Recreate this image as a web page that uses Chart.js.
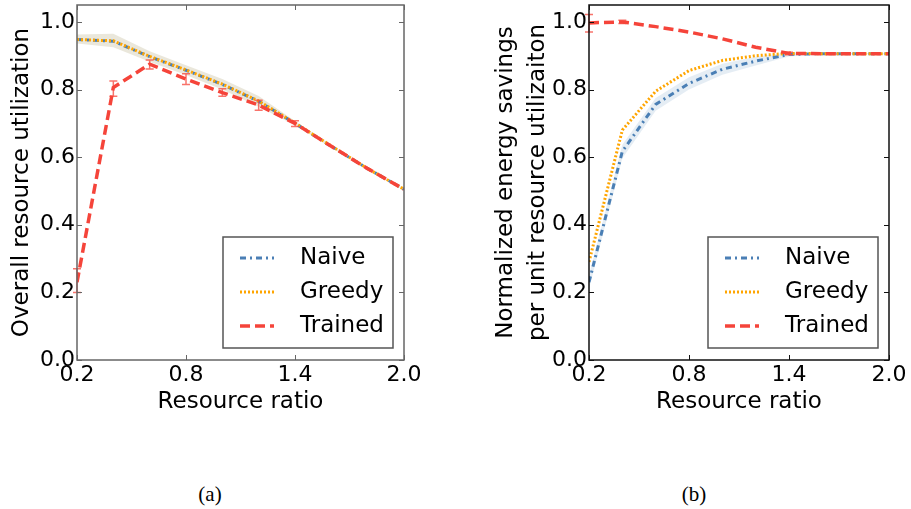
<!DOCTYPE html>
<html>
<head>
<meta charset="utf-8">
<script src="https://cdn.jsdelivr.net/npm/chart.js@4.4.0/dist/chart.umd.min.js"></script>
<style>
  body { margin: 0; background: #fff; width: 911px; height: 509px; position: relative; overflow: hidden; }
  canvas { position: absolute; top: 0; }
  #util { left: 0; }
  #saving { left: 455px; }
  .caption { position: absolute; top: 482px; font: 21px "Liberation Serif", serif; line-height: 24px; transform: translateX(-50%); }
</style>
</head>
<body>
<canvas id="util" width="455" height="430"></canvas>
<canvas id="saving" width="456" height="430"></canvas>
<div class="caption" style="left:210px">(a)</div>
<div class="caption" style="left:694px">(b)</div>
<script>
var ratios = [0.2, 0.4, 0.6, 0.8, 1.0, 1.2, 1.4, 1.6, 1.8, 2.0];
var xTicks = [0.2, 0.8, 1.4, 2.0];
var yTicks = [0.0, 0.2, 0.4, 0.6, 0.8, 1.0];
var seriesNames = ['Naive', 'Greedy', 'Trained'];

// (a) overall resource utilization
var utilNaive   = [0.948, 0.943, 0.897, 0.857, 0.815, 0.765, 0.700, 0.632, 0.566, 0.505];
var utilGreedy  = [0.948, 0.944, 0.898, 0.858, 0.816, 0.766, 0.701, 0.633, 0.566, 0.505];
var utilBandHi  = [0.963, 0.965, 0.913, 0.872, 0.831, 0.781, 0.707, 0.636, 0.568, 0.507];
var utilBandLo  = [0.936, 0.925, 0.882, 0.843, 0.800, 0.749, 0.694, 0.628, 0.563, 0.503];
var utilTrained = [0.230, 0.806, 0.875, 0.831, 0.791, 0.754, 0.700, 0.632, 0.566, 0.505];
var utilErrLo   = [0.200, 0.780, 0.861, 0.815, 0.780, 0.739, 0.691, null, null, null];
var utilErrHi   = [0.270, 0.825, 0.887, 0.847, 0.802, 0.768, 0.708, null, null, null];

// (b) normalized energy savings per unit utilization
var saveNaive   = [0.230, 0.617, 0.756, 0.818, 0.860, 0.884, 0.904, 0.906, 0.906, 0.906];
var saveGreedy  = [0.290, 0.680, 0.795, 0.856, 0.886, 0.900, 0.907, 0.906, 0.906, 0.906];
var saveBandHi  = [0.250, 0.637, 0.775, 0.836, 0.876, 0.897, 0.910, 0.908, 0.908, 0.908];
var saveBandLo  = [0.210, 0.597, 0.737, 0.800, 0.844, 0.871, 0.898, 0.904, 0.904, 0.904];
var saveTrained = [0.997, 1.000, 0.986, 0.970, 0.950, 0.925, 0.907, 0.906, 0.906, 0.906];
var saveErrLo   = [0.970, 0.995, null, null, null, null, 0.903, null, null, null];
var saveErrHi   = [1.022, 1.005, null, null, null, null, 0.910, null, null, null];

var BLUE = '#4a7fb5', ORANGE = '#ffa500', RED = '#f5443a';
var FONT = 'DejaVu Sans';

function pts(ys) {
  return ratios.map(function (x, i) { return { x: x, y: ys[i] }; });
}

function lines(naive, greedy, trained, errLo, errHi) {
  return [
    { label: seriesNames[0], data: pts(naive), borderColor: BLUE, borderWidth: 3, borderDash: [6, 4, 2, 4], order: 2, legend: true },
    { label: seriesNames[1], data: pts(greedy), borderColor: ORANGE, borderWidth: 3, borderDash: [2, 2], order: 1, legend: true },
    { label: seriesNames[2], data: pts(trained), borderColor: RED, borderWidth: 3.5, borderDash: [10, 5], order: 0, legend: true,
      errLo: errLo, errHi: errHi }
  ];
}

function band(hi, lo, color) {
  return [
    { label: 'hi', data: pts(hi), borderWidth: 0, borderColor: 'transparent', fill: false, order: 5 },
    { label: 'lo', data: pts(lo), borderWidth: 0, borderColor: 'transparent', backgroundColor: color, fill: '-1', order: 4 }
  ];
}

// box with inward ticks on all four sides
var framePlugin = {
  id: 'frame',
  afterDraw: function (chart, args, opts) {
    var a = chart.chartArea, ctx = chart.ctx, xs = chart.scales.x, ys = chart.scales.y;
    ctx.save();
    ctx.strokeStyle = opts.color;
    ctx.lineWidth = 1.5;
    ctx.strokeRect(a.left, a.top, a.right - a.left, a.bottom - a.top);
    ctx.lineWidth = 1;
    ctx.beginPath();
    xTicks.forEach(function (v) {
      var p = Math.round(xs.getPixelForValue(v)) + 0.5;
      ctx.moveTo(p, a.bottom); ctx.lineTo(p, a.bottom - 5);
      ctx.moveTo(p, a.top); ctx.lineTo(p, a.top + 5);
    });
    yTicks.forEach(function (v) {
      var p = Math.round(ys.getPixelForValue(v)) + 0.5;
      ctx.moveTo(a.left, p); ctx.lineTo(a.left + 5, p);
      ctx.moveTo(a.right, p); ctx.lineTo(a.right - 5, p);
    });
    ctx.stroke();
    ctx.restore();
  }
};

var errorBarPlugin = {
  id: 'errbars',
  afterDatasetsDraw: function (chart) {
    var ctx = chart.ctx, xs = chart.scales.x, ys = chart.scales.y;
    ctx.save();
    ctx.strokeStyle = 'rgba(245,68,58,0.75)';
    ctx.lineWidth = 1.5;
    chart.data.datasets.forEach(function (ds) {
      if (!ds.errLo) return;
      ds.data.forEach(function (p, i) {
        if (ds.errLo[i] == null) return;
        var x = xs.getPixelForValue(p.x), y0 = ys.getPixelForValue(ds.errLo[i]), y1 = ys.getPixelForValue(ds.errHi[i]);
        ctx.beginPath();
        ctx.moveTo(x, y0); ctx.lineTo(x, y1);
        ctx.moveTo(x - 4, y0); ctx.lineTo(x + 4, y0);
        ctx.moveTo(x - 4, y1); ctx.lineTo(x + 4, y1);
        ctx.stroke();
      });
    });
    ctx.restore();
  }
};

// legend box in the lower right corner of the plot
var legendPlugin = {
  id: 'cornerLegend',
  afterDraw: function (chart) {
    var a = chart.chartArea, ctx = chart.ctx;
    var w = 170, h = 111;
    var left = a.right - 11 - w, top = a.bottom - 12 - h;
    ctx.save();
    ctx.fillStyle = '#fff';
    ctx.fillRect(left, top, w, h);
    ctx.strokeStyle = '#555';
    ctx.lineWidth = 1.5;
    ctx.strokeRect(left, top, w, h);
    var items = chart.data.datasets.filter(function (d) { return d.legend; });
    items.forEach(function (ds, i) {
      var y = top + 21 + i * 34;
      ctx.setLineDash(ds.borderDash);
      ctx.strokeStyle = ds.borderColor;
      ctx.lineWidth = ds.borderWidth;
      ctx.beginPath();
      ctx.moveTo(left + 17, y); ctx.lineTo(left + 51, y);
      ctx.stroke();
      ctx.setLineDash([]);
      ctx.fillStyle = '#000';
      ctx.font = '23px "' + FONT + '"';
      ctx.textBaseline = 'middle';
      ctx.fillText(ds.label, left + 77, y);
    });
    ctx.restore();
  }
};

function panel(id, datasets, yTitle, titlePad, axisWidth, rightPad, frameColor) {
  return new Chart(document.getElementById(id), {
    type: 'line',
    data: { datasets: datasets },
    options: {
      responsive: false,
      animation: false,
      devicePixelRatio: 1,
      layout: { padding: { top: 5, right: rightPad, left: 0, bottom: 0 } },
      elements: { point: { radius: 0 }, line: { tension: 0 } },
      plugins: {
        legend: { display: false },
        tooltip: { enabled: false },
        frame: { color: frameColor }
      },
      scales: {
        x: {
          type: 'linear', min: 0.2, max: 2.0,
          grid: { display: false, drawTicks: false },
          border: { display: false },
          afterBuildTicks: function (ax) { ax.ticks = xTicks.map(function (v) { return { value: v }; }); },
          afterFit: function (ax) { ax.height = 70; ax.paddingLeft = 0; ax.paddingRight = 0; },
          ticks: { padding: 2, color: '#000', font: { family: FONT, size: 22 },
                   callback: function (v) { return v.toFixed(1); } },
          title: { display: true, text: 'Resource ratio', color: '#000',
                   font: { family: FONT, size: 23 }, padding: { top: 0, bottom: 14 } }
        },
        y: {
          type: 'linear', min: 0, max: 1.05,
          grid: { display: false, drawTicks: false },
          border: { display: false },
          afterBuildTicks: function (ax) { ax.ticks = yTicks.map(function (v) { return { value: v }; }); },
          afterFit: function (ax) { ax.width = axisWidth; ax.paddingTop = 0; ax.paddingBottom = 0; },
          ticks: { padding: 2, color: '#000', font: { family: FONT, size: 22 },
                   callback: function (v) { return v.toFixed(1); } },
          title: { display: true, text: yTitle, color: '#000',
                   font: { family: FONT, size: 23, lineHeight: 1.35 }, padding: { top: titlePad, bottom: 0 } }
        }
      }
    },
    plugins: [framePlugin, errorBarPlugin, legendPlugin]
  });
}

panel('util',
  lines(utilNaive, utilGreedy, utilTrained, utilErrLo, utilErrHi)
    .concat(band(utilBandHi, utilBandLo, 'rgba(200,192,160,0.38)')),
  'Overall resource utilization', 7, 77, 51, '#666');

panel('saving',
  lines(saveNaive, saveGreedy, saveTrained, saveErrLo, saveErrHi)
    .concat(band(saveBandHi, saveBandLo, 'rgba(70,130,180,0.14)')),
  ['Normalized energy savings', 'per unit resource utilizaiton'], 36, 134, 22, '#111');
</script>
</body>
</html>
